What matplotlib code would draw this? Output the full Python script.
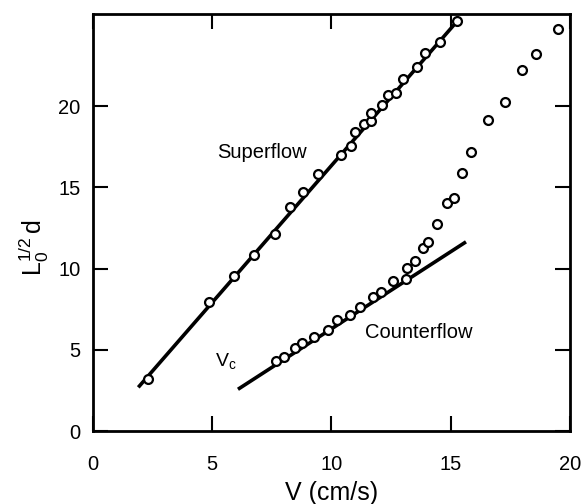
import matplotlib
matplotlib.use("Agg")
import matplotlib.pyplot as plt

plt.rcParams['font.family'] = ['Liberation Sans', 'DejaVu Sans']
plt.rcParams['mathtext.fontset'] = 'custom'
plt.rcParams['mathtext.rm'] = 'Liberation Sans'
plt.rcParams['mathtext.it'] = 'Liberation Sans'

# Superflow data
super_v = [2.30, 4.87, 5.91, 6.75, 7.62, 8.28, 8.80, 9.43, 10.38, 10.82, 11.00,
           11.35, 11.67, 11.67, 12.10, 12.36, 12.71, 12.98, 13.59, 13.93, 14.56, 15.26]
super_y = [3.20, 7.92, 9.54, 10.87, 12.12, 13.77, 14.75, 15.83, 16.98, 17.58, 18.44,
           18.89, 19.10, 19.59, 20.06, 20.72, 20.84, 21.68, 22.42, 23.28, 23.96, 25.25]

# Counterflow data
counter_v = [7.69, 8.03, 8.48, 8.77, 9.26, 9.85, 10.24, 10.79, 11.21, 11.74, 12.09,
             12.58, 13.13, 13.18, 13.49, 13.82, 14.03, 14.41, 14.84, 15.15, 15.47,
             15.86, 16.56, 17.28, 17.98, 18.59, 19.51]
counter_y = [4.31, 4.57, 5.13, 5.42, 5.80, 6.20, 6.83, 7.14, 7.63, 8.23, 8.54,
             9.21, 9.34, 10.05, 10.48, 11.29, 11.66, 12.76, 14.03, 14.34, 15.86,
             17.19, 19.14, 20.26, 22.22, 23.22, 24.74]

# Fit lines (endpoints)
super_fit_v = [1.90, 15.23]
super_fit_y = [2.69, 25.17]
counter_fit_v = [6.08, 15.64]
counter_fit_y = [2.57, 11.65]

x_ticks = [0, 5, 10, 15, 20]
y_ticks = [0, 5, 10, 15, 20]

fig = plt.figure(figsize=(5.81, 5.04), dpi=100)
ax = fig.add_axes([0.160, 0.1448, 0.821, 0.828])

ax.plot(super_fit_v, super_fit_y, color='black', lw=2.6, solid_capstyle='butt', zorder=2)
ax.plot(counter_fit_v, counter_fit_y, color='black', lw=2.6, solid_capstyle='butt', zorder=2)
ax.plot(super_v, super_y, linestyle='none', marker='o', ms=6.4, mfc='white',
        mec='black', mew=1.6, zorder=3)
ax.plot(counter_v, counter_y, linestyle='none', marker='o', ms=6.4, mfc='white',
        mec='black', mew=1.6, zorder=3)

ax.set_xlim(0, 20)
ax.set_ylim(0, 25.7)
ax.set_xticks(x_ticks)
ax.set_yticks(y_ticks)
ax.set_xticklabels([str(t) for t in x_ticks])
ax.set_yticklabels([str(t) for t in y_ticks])

ax.tick_params(axis='both', which='major', direction='in', length=11, width=1.5,
               labelsize=14.5, top=True, right=True)
ax.tick_params(axis='x', pad=17)
ax.tick_params(axis='y', pad=9)
for s in ax.spines.values():
    s.set_linewidth(2.0)

ax.set_xlabel('V (cm/s)', fontsize=18, labelpad=5)
ax.set_ylabel(r'$\mathregular{L_0^{1/2}\,d}$', fontsize=18)
ax.yaxis.set_label_coords(-0.088, 0.44)

ax.text(5.22, 17.17, 'Superflow', fontsize=14.5, ha='left', va='center')
ax.text(11.41, 6.09, 'Counterflow', fontsize=14.5, ha='left', va='center')
ax.text(5.10, 4.3, r'$\mathregular{V_c}$', fontsize=14, ha='left', va='center')

fig.savefig('out.png', dpi=100)
